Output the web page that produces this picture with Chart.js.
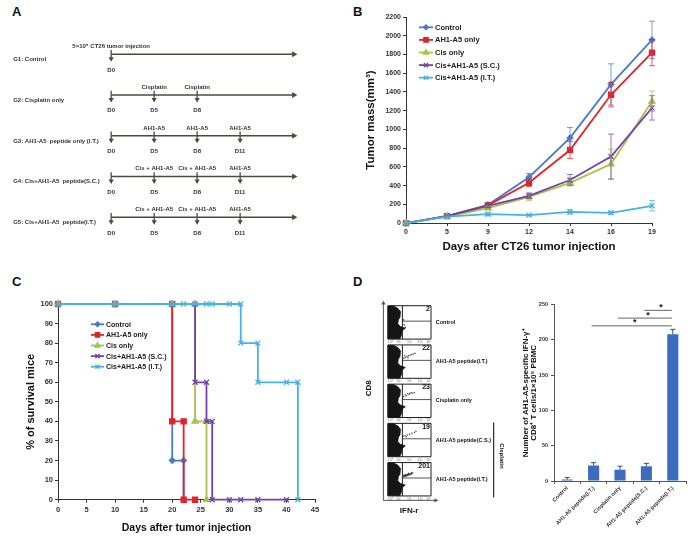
<!DOCTYPE html>
<html>
<head>
<meta charset="utf-8">
<script src="https://cdn.jsdelivr.net/npm/chart.js@4.4.0/dist/chart.umd.min.js"></script>
<style>
  body { margin: 0; background: #fff; width: 692px; height: 539px; position: relative; overflow: hidden;
         font-family: "Liberation Sans", Arial, sans-serif; }
  canvas { position: absolute; }
  .panel { position: absolute; font-weight: bold; font-size: 13px; line-height: 1; color: #111; }
</style>
</head>
<body>
<div class="panel" style="left:12px;top:5px">A</div>
<div class="panel" style="left:353px;top:5px">B</div>
<div class="panel" style="left:12px;top:275px">C</div>
<div class="panel" style="left:353px;top:275px">D</div>

<canvas id="schemeA" width="346" height="270" style="left:0;top:0"></canvas>
<canvas id="tumorB" width="346" height="270" style="left:346px;top:0"></canvas>
<canvas id="survC" width="346" height="269" style="left:0;top:270px"></canvas>
<canvas id="facsD" width="170" height="269" style="left:346px;top:270px"></canvas>
<canvas id="barD" width="212" height="269" style="left:480px;top:270px"></canvas>

<script>
// ---------- A: treatment schedule ----------
const groupNames = ['G1: Control', 'G2: Cisplatin only', 'G3: AH1-A5  peptide only (I.T.)',
                    'G4: Cis+AH1-A5  peptide(S.C.)', 'G5: Cis+AH1-A5  peptide(I.T.)'];
const scheduleDays = ['D0', 'D5', 'D8', 'D11'];          // index = slot on the time line
const groupSteps = [[0], [0, 1, 2], [0, 1, 2, 3], [0, 1, 2, 3], [0, 1, 2, 3]];
const groupEvents = [
  ['5×10⁵ CT26 tumor injection'],
  ['', 'Cisplatin', 'Cisplatin'],
  ['', 'AH1-A5', 'AH1-A5', 'AH1-A5'],
  ['', 'Cis + AH1-A5', 'Cis + AH1-A5', 'AH1-A5'],
  ['', 'Cis + AH1-A5', 'Cis + AH1-A5', 'AH1-A5']
];
const timelineEnd = 4.25;

// ---------- B: tumor growth ----------
const tumorDays = ['0', '5', '9', '12', '14', '16', '19'];
const tumorNames = ['Control', 'AH1-A5 only', 'Cis only', 'Cis+AH1-A5 (S.C.)', 'Cis+AH1-A5 (I.T.)'];
const tumorControl = [0, 75, 195, 490, 910, 1480, 1955];
const tumorAH1 = [0, 75, 190, 430, 780, 1370, 1820];
const tumorCis = [0, 70, 160, 280, 430, 630, 1300];
const tumorCisSC = [0, 75, 185, 290, 460, 710, 1230];
const tumorCisIT = [0, 70, 95, 85, 120, 110, 185];
const tumorControlErr = [0, 8, 20, 40, 110, 220, 200];
const tumorAH1Err = [0, 8, 20, 40, 90, 130, 140];
const tumorCisErr = [0, 8, 20, 40, 30, 160, 110];
const tumorCisSCErr = [0, 8, 20, 30, 60, 240, 130];
const tumorCisITErr = [0, 5, 15, 10, 25, 15, 55];

// ---------- C: survival ----------
const survControlX = [0, 10, 20, 20, 22, 22];
const survControlY = [100, 100, 100, 20, 20, 0];
const survAH1X = [0, 10, 20, 20, 22, 22, 24];
const survAH1Y = [100, 100, 100, 40, 40, 0, 0];
const survCisX = [0, 10, 20, 24, 24, 26, 26];
const survCisY = [100, 100, 100, 100, 40, 40, 0];
const survSCX = [0, 10, 20, 24, 24, 26, 26, 27, 27, 30, 32, 35, 40];
const survSCY = [100, 100, 100, 100, 60, 60, 40, 40, 0, 0, 0, 0, 0];
const survITX = [0, 10, 20, 22, 24, 26, 27, 30, 32, 32, 35, 35, 40, 42, 42];
const survITY = [100, 100, 100, 100, 100, 100, 100, 100, 100, 80, 80, 60, 60, 60, 0];

// ---------- D: flow plots + bars ----------
const facsGroups = ['Control', 'AH1-A5 peptide(I.T.)', 'Cisplatin only', 'AH1-A5 peptide(C.S.)', 'AH1-A5 peptide(I.T.)'];
const facsCounts = ['2', '22', '23', '19', '201'];
const facsDecades = ['10⁰', '10¹', '10²', '10³', '10⁴'];
const facsBlobU = [0.05, 0.5, 0.9, 1.15, 1.1, 0.95, 0.9, 1.15, 1.6, 1.3, 1.25, 1.1, 0.05, 0.05];
const facsBlobV = [3.95, 3.95, 3.7, 3.3, 2.6, 2.3, 1.8, 1.5, 1.3, 1.0, 0.5, 0.05, 0.05, 3.95];
const facsDotsU = [
  [1.45, 1.6, 1.5],
  [1.45, 1.6, 1.75, 1.9, 2.05, 2.2, 2.35, 1.55, 1.85, 2.5],
  [1.45, 1.6, 1.8, 2.0, 2.15, 2.3, 1.7, 1.95, 2.45],
  [1.45, 1.6, 1.8, 2.0, 2.2, 2.45, 1.7, 2.6],
  [1.4, 1.55, 1.7, 1.85, 2.0, 2.15, 2.3, 1.6, 1.9, 2.2]
];
const facsDotsV = [
  [2.3, 1.4, 1.7],
  [2.4, 2.5, 2.6, 2.7, 2.75, 2.85, 2.9, 2.7, 2.45, 3.0],
  [2.5, 2.7, 2.85, 2.9, 2.95, 2.9, 2.6, 2.75, 3.0],
  [2.45, 2.55, 2.6, 2.7, 2.8, 2.9, 2.4, 3.05],
  [2.3, 2.4, 2.45, 2.55, 2.6, 2.65, 2.75, 2.55, 2.7, 2.8]
];
const facsStreakU = [1.33, 1.8, 2.2, 2.25, 1.8, 1.33];
const facsStreakV = [2.25, 2.4, 2.6, 2.75, 2.6, 2.45];
const facsGateU = 1.33, facsGateV = 2.15;

const barLabels = ['Control', 'AH1-A5 peptide(I.T.)', 'Cisplatin only', 'AH1-A5 peptide(S.C.)', 'AH1-A5 peptide(I.T.)'];
const barValues = [2, 22, 16, 21, 208];
const barErrors = [3, 4, 5, 4, 7];
const sigFrom = [3, 2, 1];
const sigTo = [4, 4, 4];
const sigLevel = [242, 231, 220];

// ------------------------------------------------------------
Chart.defaults.font.family = '"Liberation Sans", Arial, sans-serif';
Chart.defaults.color = '#222';
const FONT = '"Liberation Sans", Arial, sans-serif';

const seriesColors = ['#4a7bc8', '#e2232a', '#a4c44a', '#7442a8', '#44b4dc'];
const seriesPoints = [
  { style: 'rectRot', r: 2.8 },
  { style: 'rect', r: 3.6 },
  { style: 'triangle', r: 3.5 },
  { style: 'crossRot', r: 3.5 },
  { style: 'crossRot', r: 3.5 }
];

// error bars read from dataset.errorBars
const errorBars = {
  id: 'errorBars',
  afterDatasetsDraw(chart, args, opts) {
    const ctx = chart.ctx, yScale = chart.scales.y;
    chart.data.datasets.forEach((ds, i) => {
      if (!ds.errorBars) return;
      const meta = chart.getDatasetMeta(i);
      ctx.save();
      ctx.strokeStyle = ds.errorColor || ds.borderColor;
      ctx.lineWidth = 1;
      meta.data.forEach((el, j) => {
        const e = ds.errorBars[j];
        if (!e) return;
        const v = typeof ds.data[j] === 'object' ? ds.data[j].y : ds.data[j];
        const top = yScale.getPixelForValue(v + e);
        const bot = ds.upOnly ? yScale.getPixelForValue(v) : yScale.getPixelForValue(v - e);
        const cap = opts.cap || 3;
        ctx.beginPath();
        ctx.moveTo(el.x, top); ctx.lineTo(el.x, bot);
        ctx.moveTo(el.x - cap, top); ctx.lineTo(el.x + cap, top);
        if (!ds.upOnly) { ctx.moveTo(el.x - cap, bot); ctx.lineTo(el.x + cap, bot); }
        ctx.stroke();
      });
      ctx.restore();
    });
  }
};

// vertical legend drawn inside the plot
function insideLegend(id, x0, y0, step, lineLen, fontSize) {
  return {
    id: id,
    afterDraw(chart) {
      const ctx = chart.ctx;
      ctx.save();
      chart.data.datasets.forEach((ds, i) => {
        const y = y0 + i * step;
        ctx.strokeStyle = ds.borderColor;
        ctx.lineWidth = 1.8;
        ctx.beginPath(); ctx.moveTo(x0, y); ctx.lineTo(x0 + lineLen, y); ctx.stroke();
        ctx.fillStyle = ds.borderColor;
        ctx.strokeStyle = ds.borderColor;
        ctx.lineWidth = 1.3;
        Chart.helpers.drawPoint(ctx, { pointStyle: ds.pointStyle, radius: ds.pointRadius * 0.85, rotation: 0, borderWidth: 1.3 }, x0 + lineLen / 2, y);
        ctx.fillStyle = '#222';
        ctx.font = 'bold ' + fontSize + 'px ' + FONT;
        ctx.textAlign = 'left'; ctx.textBaseline = 'middle';
        ctx.fillText(ds.label, x0 + lineLen + 2, y + 0.5);
      });
      ctx.restore();
    }
  };
}

// ---------------- A ----------------
const schemeColor = '#4b4b3d';
const schemeDatasets = [];
groupNames.forEach((g, i) => {
  schemeDatasets.push({
    data: [{ x: 0, y: i }, { x: timelineEnd, y: i }],
    showLine: true, borderColor: schemeColor, borderWidth: 1.5,
    pointRadius: [0, 3.5], pointStyle: 'triangle', pointRotation: [0, 90],
    pointBackgroundColor: schemeColor, pointBorderWidth: 0
  });
  groupSteps[i].forEach(s => {
    schemeDatasets.push({
      data: [{ x: s, y: i - 0.1 }, { x: s, y: i + 0.11 }],
      showLine: true, borderColor: schemeColor, borderWidth: 1.3,
      pointRadius: [0, 3], pointStyle: 'triangle', pointRotation: [0, 180],
      pointBackgroundColor: schemeColor, pointBorderWidth: 0
    });
  });
});

const schemeText = {
  id: 'schemeText',
  afterDraw(chart) {
    const { ctx, scales: { x, y } } = chart;
    ctx.save();
    ctx.fillStyle = '#333';
    ctx.font = 'bold 6px ' + FONT;
    ctx.textBaseline = 'middle';
    groupNames.forEach((g, i) => {
      ctx.textAlign = 'left';
      ctx.fillText(g, x.getPixelForValue(-2.28), y.getPixelForValue(i + 0.13));
      ctx.textAlign = 'center';
      groupSteps[i].forEach((s, j) => {
        if (groupEvents[i][j]) ctx.fillText(groupEvents[i][j], x.getPixelForValue(s), y.getPixelForValue(i - 0.19));
        ctx.fillText(scheduleDays[s], x.getPixelForValue(s), y.getPixelForValue(i + 0.39));
      });
    });
    ctx.restore();
  }
};

new Chart(document.getElementById('schemeA'), {
  type: 'scatter',
  data: { datasets: schemeDatasets },
  options: {
    responsive: false, animation: false, devicePixelRatio: 1,
    layout: { padding: 0 },
    plugins: { legend: { display: false }, tooltip: { enabled: false } },
    scales: {
      x: { display: false, min: -2.493, max: 5.37 },
      y: { display: false, min: -1.231, max: 5.198, reverse: true }
    }
  },
  plugins: [schemeText]
});

// ---------------- B ----------------
const tumorValues = [tumorControl, tumorAH1, tumorCis, tumorCisSC, tumorCisIT];
const tumorErrors = [tumorControlErr, tumorAH1Err, tumorCisErr, tumorCisSCErr, tumorCisITErr];

new Chart(document.getElementById('tumorB'), {
  type: 'line',
  data: {
    labels: tumorDays,
    datasets: tumorNames.map((name, i) => ({
      label: name,
      data: tumorValues[i],
      errorBars: tumorErrors[i],
      errorColor: seriesColors[i] + 'bb',
      borderColor: seriesColors[i],
      backgroundColor: seriesColors[i],
      pointBackgroundColor: seriesColors[i],
      pointBorderColor: seriesColors[i],
      borderWidth: 1.8,
      pointStyle: seriesPoints[i].style,
      pointRadius: seriesPoints[i].r,
      pointBorderWidth: 1.3,
      tension: 0,
      clip: false,
      order: 5 - i
    }))
  },
  options: {
    responsive: false, animation: false, devicePixelRatio: 1,
    layout: { padding: { left: 14, top: 17, right: 40, bottom: 12 } },
    plugins: { legend: { display: false }, tooltip: { enabled: false }, errorBars: { cap: 3 } },
    scales: {
      x: {
        offset: false,
        grid: { drawOnChartArea: false, drawTicks: true, tickLength: 3, color: '#333' },
        border: { color: '#333', width: 1 },
        ticks: { font: { size: 7, weight: 'bold' }, color: '#333', padding: 2, maxRotation: 0 },
        title: { display: true, text: 'Days after CT26 tumor injection', font: { size: 11.5, weight: 'bold' }, color: '#111', padding: { top: 4, bottom: 4 } },
        afterFit(s) { s.height = 34.9; }
      },
      y: {
        min: 0, max: 2200,
        grid: { drawOnChartArea: false, drawTicks: true, tickLength: 3, color: '#333' },
        border: { color: '#333', width: 1 },
        ticks: { stepSize: 200, font: { size: 7, weight: 'bold' }, color: '#333', padding: 2, callback: v => String(v) },
        title: { display: true, text: 'Tumor mass(mm³)', font: { size: 11.5, weight: 'bold' }, color: '#111', padding: { top: 4, bottom: 4 } },
        afterFit(s) { s.width = 46; }
      }
    }
  },
  plugins: [errorBars, insideLegend('legendB', 73, 27.3, 12.6, 14, 7.5)]
});

// ---------------- C ----------------
const survX = [survControlX, survAH1X, survCisX, survSCX, survITX];
const survY = [survControlY, survAH1Y, survCisY, survSCY, survITY];

new Chart(document.getElementById('survC'), {
  type: 'scatter',
  data: {
    datasets: tumorNames.map((name, i) => ({
      label: name,
      data: survX[i].map((d, j) => ({ x: d, y: survY[i][j] })),
      showLine: true,
      borderColor: seriesColors[i],
      backgroundColor: seriesColors[i],
      pointBackgroundColor: seriesColors[i],
      pointBorderColor: seriesColors[i],
      borderWidth: 1.8,
      pointStyle: seriesPoints[i].style,
      pointRadius: seriesPoints[i].r,
      pointBorderWidth: 1.3,
      clip: false,
      order: 5 - i
    }))
  },
  options: {
    responsive: false, animation: false, devicePixelRatio: 1,
    layout: { padding: { left: 20, top: 34, right: 31, bottom: 1 } },
    plugins: { legend: { display: false }, tooltip: { enabled: false } },
    scales: {
      x: {
        min: 0, max: 45,
        grid: { drawOnChartArea: false, drawTicks: true, tickLength: 3, color: '#333' },
        border: { color: '#333', width: 1 },
        ticks: { stepSize: 5, font: { size: 7.5, weight: 'bold' }, color: '#333', padding: 3, maxRotation: 0 },
        title: { display: true, text: 'Days after tumor injection', font: { size: 10.5, weight: 'bold' }, color: '#111', padding: { top: 4, bottom: 4 } },
        afterFit(s) { s.height = 38.3; }
      },
      y: {
        min: 0, max: 100,
        grid: { drawOnChartArea: false, drawTicks: true, tickLength: 3, color: '#333' },
        border: { color: '#333', width: 1 },
        ticks: { stepSize: 10, font: { size: 7.5, weight: 'bold' }, color: '#333', padding: 2 },
        title: { display: true, text: '% of survival mice', font: { size: 11, weight: 'bold' }, color: '#111', padding: { top: 4, bottom: 4 } },
        afterFit(s) { s.width = 38; }
      }
    }
  },
  plugins: [insideLegend('legendC', 91, 54.3, 10.6, 13, 7)]
});

// ---------------- D: flow plots ----------------
const slot = 4.7;   // vertical distance between stacked plots (axis units)
const toY = (k, v) => slot * k + (4 - v);
const facsDatasets = [];
const ink = '#1c1c1c';
facsGroups.forEach((g, k) => {
  facsDatasets.push({   // dense CD8 cloud
    data: facsBlobU.map((u, j) => ({ x: u, y: toY(k, facsBlobV[j]) })),
    showLine: true, fill: 'shape', backgroundColor: '#151515', borderColor: '#151515', borderWidth: 0.8, pointRadius: 0
  });
  if (k === 4) {
    facsDatasets.push({
      data: facsStreakU.map((u, j) => ({ x: u, y: toY(k, facsStreakV[j]) })),
      showLine: true, fill: 'shape', backgroundColor: '#444', borderColor: '#444', borderWidth: 0.6, pointRadius: 0
    });
  }
  facsDatasets.push({   // scattered double positive events
    data: facsDotsU[k].map((u, j) => ({ x: u, y: toY(k, facsDotsV[k][j]) })),
    showLine: false, pointRadius: 0.8, pointBackgroundColor: '#555', pointBorderWidth: 0
  });
  facsDatasets.push({   // frame
    data: [[0, 0], [4, 0], [4, 4], [0, 4], [0, 0]].map(p => ({ x: p[0], y: toY(k, p[1]) })),
    showLine: true, borderColor: ink, borderWidth: 1, pointRadius: 0
  });
  facsDatasets.push({   // vertical gate
    data: [{ x: facsGateU, y: toY(k, 0) }, { x: facsGateU, y: toY(k, 4) }],
    showLine: true, borderColor: ink, borderWidth: 1, pointRadius: 0
  });
  facsDatasets.push({   // horizontal gate
    data: [{ x: facsGateU, y: toY(k, facsGateV) }, { x: 4, y: toY(k, facsGateV) }],
    showLine: true, borderColor: '#555', borderWidth: 1, pointRadius: 0
  });
});
const axisBottom = slot * 4 + 4.53;
facsDatasets.push({   // CD8 axis
  data: [{ x: -0.44, y: axisBottom }, { x: -0.44, y: -0.3 }],
  showLine: true, borderColor: '#555', borderWidth: 1, pointRadius: [0, 2.5], pointStyle: 'triangle',
  pointRotation: 0, pointBackgroundColor: '#555', pointBorderWidth: 0
});
facsDatasets.push({   // IFN axis
  data: [{ x: -0.44, y: axisBottom }, { x: 4.45, y: axisBottom }],
  showLine: true, borderColor: '#555', borderWidth: 1, pointRadius: [0, 2.5], pointStyle: 'triangle',
  pointRotation: 90, pointBackgroundColor: '#555', pointBorderWidth: 0
});
facsDatasets.push({   // cisplatin bracket
  data: [{ x: 9.84, y: slot * 3 - 0.07 }, { x: 9.84, y: slot * 4 + 4.15 }],
  showLine: true, borderColor: '#333', borderWidth: 1, pointRadius: 0
});

const facsText = {
  id: 'facsText',
  afterDraw(chart) {
    const { ctx, scales: { x, y } } = chart;
    ctx.save();
    ctx.textBaseline = 'middle';
    facsGroups.forEach((g, k) => {
      ctx.fillStyle = '#111';
      ctx.font = 'bold 7px ' + FONT;
      ctx.textAlign = 'right';
      ctx.fillText(facsCounts[k], x.getPixelForValue(3.9), y.getPixelForValue(toY(k, 3.6)));
      ctx.font = 'bold 5.5px ' + FONT;
      ctx.textAlign = 'left';
      ctx.fillText(g, x.getPixelForValue(4.44), y.getPixelForValue(toY(k, 2.0)));
      ctx.fillStyle = '#777';
      ctx.font = '3.5px ' + FONT;
      ctx.textAlign = 'center';
      facsDecades.forEach((d, j) => {
        ctx.fillText(d, x.getPixelForValue(Math.min(Math.max(j, 0.2), 3.8)), y.getPixelForValue(toY(k, -0.35)));
      });
    });
    ctx.fillStyle = '#111';
    ctx.font = 'bold 8px ' + FONT;
    ctx.textAlign = 'center';
    ctx.fillText('IFN-r', x.getPixelForValue(1.96), y.getPixelForValue(axisBottom + 1.2));
    ctx.save();
    ctx.translate(x.getPixelForValue(-1.78), y.getPixelForValue(slot * 2 + 0.5));
    ctx.rotate(-Math.PI / 2);
    ctx.fillText('CD8', 0, 0);
    ctx.restore();
    ctx.save();
    ctx.font = 'bold 6px ' + FONT;
    ctx.translate(x.getPixelForValue(10.55), y.getPixelForValue(slot * 3 + 3.9));
    ctx.rotate(Math.PI / 2);
    ctx.fillText('Cisplatin', 0, 0);
    ctx.restore();
    ctx.restore();
  }
};

new Chart(document.getElementById('facsD'), {
  type: 'scatter',
  data: { datasets: facsDatasets },
  options: {
    responsive: false, animation: false, devicePixelRatio: 1,
    layout: { padding: 0 },
    plugins: { legend: { display: false }, tooltip: { enabled: false } },
    scales: {
      x: { display: false, min: -3.556, max: 11.556 },
      y: { display: false, min: -3.8, max: 27.48, reverse: true }
    }
  },
  plugins: [facsText]
});

// ---------------- D: bars ----------------
const sigMarks = {
  id: 'sigMarks',
  afterDatasetsDraw(chart) {
    const { ctx, scales: { x, y } } = chart;
    ctx.save();
    sigFrom.forEach((f, i) => {
      const x1 = x.getPixelForValue(f) - 2, x2 = x.getPixelForValue(sigTo[i]) - 1;
      const yy = y.getPixelForValue(sigLevel[i]);
      ctx.strokeStyle = '#666'; ctx.lineWidth = 1;
      ctx.beginPath(); ctx.moveTo(x1, yy); ctx.lineTo(x2, yy); ctx.stroke();
      ctx.fillStyle = '#111';
      ctx.font = 'bold 9px ' + FONT;
      ctx.textAlign = 'center'; ctx.textBaseline = 'middle';
      ctx.fillText('*', (x1 + x2) / 2 + 3, yy - 3);
    });
    ctx.restore();
  }
};

new Chart(document.getElementById('barD'), {
  type: 'bar',
  data: {
    labels: barLabels,
    datasets: [{
      data: barValues,
      errorBars: barErrors,
      upOnly: true,
      errorColor: '#2b4f8f',
      backgroundColor: '#3b6cc0',
      barPercentage: 0.42,
      categoryPercentage: 1
    }]
  },
  options: {
    responsive: false, animation: false, devicePixelRatio: 1,
    layout: { padding: { left: 38, top: 34.7, right: 6, bottom: 0 } },
    plugins: { legend: { display: false }, tooltip: { enabled: false }, errorBars: { cap: 2.5 } },
    scales: {
      x: {
        grid: { drawOnChartArea: false, drawTicks: true, tickLength: 3, color: '#555' },
        border: { color: '#555', width: 1 },
        ticks: { font: { size: 5.5, weight: 'bold' }, color: '#333', padding: 1, minRotation: 45, maxRotation: 45, autoSkip: false },
        afterFit(s) { s.height = 58; }
      },
      y: {
        min: 0, max: 250,
        grid: { drawOnChartArea: false, drawTicks: true, tickLength: 3, color: '#555' },
        border: { color: '#555', width: 1 },
        ticks: { stepSize: 50, font: { size: 5.5, weight: 'bold' }, color: '#333', padding: 3 },
        title: {
          display: true,
          text: ['Number of AH1-A5-specific IFN-γ⁺', 'CD8⁺ T cells/1×10⁵ PBMC'],
          font: { size: 8, weight: 'bold', lineHeight: 1.0 }, color: '#111', padding: { top: 4, bottom: 4 }
        },
        afterFit(s) { s.width = 36; }
      }
    }
  },
  plugins: [errorBars, sigMarks]
});
</script>
</body>
</html>
